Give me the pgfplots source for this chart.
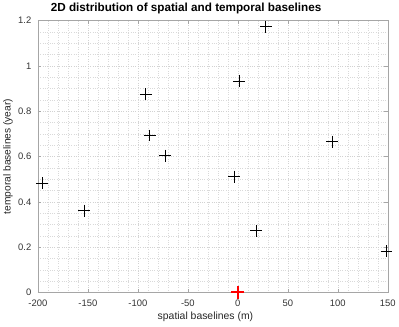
\documentclass[border=0pt]{standalone}
\usepackage{pgfplots}
\pgfplotsset{compat=1.18}
\usepackage{fontspec}
\setmainfont{Liberation Sans}
\begin{document}
\begin{tikzpicture}
\begin{axis}[
    name=ax,
    scale only axis,
    width=353pt, height=274pt,
    xmin=-200, xmax=150,
    ymin=0, ymax=1.2,
    xtick distance=50, ytick distance=0.2,
    minor x tick num=4, minor y tick num=3,
    grid=both,
    major grid style={gray!35, dotted, line width=0.45pt},
    minor grid style={gray!30, dotted, line width=0.45pt},
    axis line style={gray!70, line width=0.6pt},
    tick align=inside,
    major tick length=3.5pt,
    minor tick length=0pt,
    tick style={gray!70, line width=0.6pt},
    ticklabel style={font=\fontsize{9.5}{11}\selectfont, text=black!80},
    /pgf/number format/assume math mode=true,
    yticklabel style={/pgf/number format/fixed, xshift=-3pt},
    xticklabel style={yshift=-4pt},
    xlabel={spatial baselines (m)},
    ylabel={temporal baselines (year)},
    xlabel style={font=\fontsize{10.5}{12}\selectfont, text=black!85,
        at={(axis description cs:0.479,-0.091)}, anchor=center},
    ylabel style={font=\fontsize{10.3}{12}\selectfont, text=black!85,
        at={(axis description cs:-0.085,0.5)}, anchor=center},
    title={\textbf{2D distribution of spatial and temporal baselines}},
    title style={font=\fontsize{11.8}{14}\selectfont,
        at={(axis description cs:0.4235,1)}, anchor=base, yshift=3pt},
]
\addplot[only marks, mark=+, mark size=6pt, line width=0.8pt, black] coordinates {
    (28,1.174)
    (1.5,0.934)
    (-92,0.875)
    (-88,0.693)
    (-72.5,0.604)
    (94.5,0.666)
    (-3.4,0.511)
    (-195.8,0.483)
    (-153.4,0.361)
    (18.4,0.272)
    (148.7,0.181)
};
\addplot[only marks, mark=+, mark size=6.5pt, line width=2pt, red] coordinates {
    (0,0)
};
\end{axis}
\path[use as bounding box] ([xshift=-37pt,yshift=-34pt]ax.south west)
    rectangle ([xshift=9pt,yshift=15pt]ax.north east);
\end{tikzpicture}
\end{document}
